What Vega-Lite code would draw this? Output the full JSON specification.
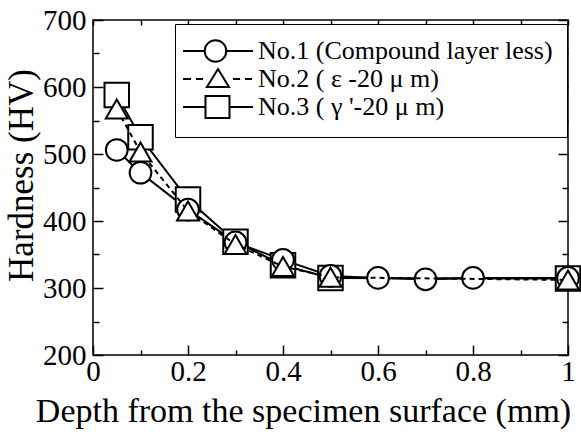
{
  "$schema": "https://vega.github.io/schema/vega-lite/v6.json",
  "width": 475,
  "height": 335,
  "autosize": {"type": "none"},
  "padding": {"left": 93, "top": 20, "right": 13, "bottom": 79},
  "background": "white",
  "data": {
    "values": [
      {"series": "No.1 (Compound layer less)", "depth": 0.05, "hv": 506},
      {"series": "No.1 (Compound layer less)", "depth": 0.1, "hv": 472},
      {"series": "No.1 (Compound layer less)", "depth": 0.2, "hv": 417},
      {"series": "No.1 (Compound layer less)", "depth": 0.3, "hv": 368},
      {"series": "No.1 (Compound layer less)", "depth": 0.4, "hv": 342},
      {"series": "No.1 (Compound layer less)", "depth": 0.5, "hv": 318},
      {"series": "No.1 (Compound layer less)", "depth": 0.6, "hv": 315},
      {"series": "No.1 (Compound layer less)", "depth": 0.7, "hv": 313},
      {"series": "No.1 (Compound layer less)", "depth": 0.8, "hv": 315},
      {"series": "No.1 (Compound layer less)", "depth": 1.0, "hv": 315},
      {"series": "No.2 ( ε -20 μ m)", "depth": 0.05, "hv": 567},
      {"series": "No.2 ( ε -20 μ m)", "depth": 0.1, "hv": 503},
      {"series": "No.2 ( ε -20 μ m)", "depth": 0.2, "hv": 415},
      {"series": "No.2 ( ε -20 μ m)", "depth": 0.3, "hv": 365},
      {"series": "No.2 ( ε -20 μ m)", "depth": 0.4, "hv": 332},
      {"series": "No.2 ( ε -20 μ m)", "depth": 0.5, "hv": 316},
      {"series": "No.2 ( ε -20 μ m)", "depth": 1.0, "hv": 312},
      {"series": "No.3 ( γ '-20 μ m)", "depth": 0.05, "hv": 588},
      {"series": "No.3 ( γ '-20 μ m)", "depth": 0.1, "hv": 525},
      {"series": "No.3 ( γ '-20 μ m)", "depth": 0.2, "hv": 432},
      {"series": "No.3 ( γ '-20 μ m)", "depth": 0.3, "hv": 369},
      {"series": "No.3 ( γ '-20 μ m)", "depth": 0.4, "hv": 334},
      {"series": "No.3 ( γ '-20 μ m)", "depth": 0.5, "hv": 315},
      {"series": "No.3 ( γ '-20 μ m)", "depth": 1.0, "hv": 314}
    ]
  },
  "layer": [
    {
      "mark": {"type": "point", "opacity": 0},
      "encoding": {
        "x": {
          "field": "depth", "type": "quantitative",
          "scale": {"domain": [0, 1], "nice": false, "zero": false},
          "axis": {
            "orient": "top", "title": null, "labels": false,
            "values": [0, 0.1, 0.2, 0.3, 0.4, 0.5, 0.6, 0.7, 0.8, 0.9, 1],
            "tickSize": -5
          }
        },
        "y": {
          "field": "hv", "type": "quantitative",
          "scale": {"domain": [200, 700], "nice": false, "zero": false},
          "axis": {
            "orient": "right", "title": null, "labels": false,
            "values": [200, 250, 300, 350, 400, 450, 500, 550, 600, 650, 700],
            "tickSize": {"condition": {"test": "datum.value % 100 == 0", "value": -10}, "value": -6}
          }
        },
        "shape": {
          "field": "series", "type": "nominal",
          "scale": {
            "domain": ["No.1 (Compound layer less)", "No.2 ( ε -20 μ m)", "No.3 ( γ '-20 μ m)"],
            "range": [
              "M-1.58,0H0.225M2.025,0H4.25M2.025,0A0.9,0.9,0,1,1,0.225,0A0.9,0.9,0,1,1,2.025,0Z",
              "M-1.58,0H-0.92M-0.5,0H0.08M2.58,0H3.17M3.58,0H4.17M1.33,-0.83L2.25,0.67L0.41,0.67Z",
              "M-1.58,0H0.29M2.29,0H4.25M0.29,-0.92H2.29V0.92H0.29Z"
            ]
          },
          "legend": {
            "orient": "none",
            "legendX": 82,
            "legendY": 4,
            "title": null,
            "strokeColor": "black",
            "fillColor": "white",
            "padding": 14,
            "symbolSize": 576,
            "symbolStrokeWidth": 2,
            "symbolFillColor": "white",
            "symbolStrokeColor": "black",
            "symbolOpacity": 1,
            "labelOffset": 43,
            "labelFont": "Liberation Serif",
            "labelFontSize": 26,
            "labelColor": "black",
            "labelLimit": 500,
            "rowPadding": -1,
            "encode": {"symbols": {"update": {"opacity": {"value": 1}, "fill": {"value": "white"}, "stroke": {"value": "black"}, "strokeWidth": {"value": 2}}}}
          }
        }
      }
    },
    {
      "transform": [{"filter": {"field": "series", "oneOf": ["No.1 (Compound layer less)", "No.3 ( γ '-20 μ m)"]}}],
      "mark": {"type": "line", "stroke": "black", "strokeWidth": 2},
      "encoding": {
        "x": {
          "field": "depth", "type": "quantitative",
          "axis": {
            "orient": "bottom",
            "title": "Depth from the specimen surface (mm)",
            "values": [0, 0.1, 0.2, 0.3, 0.4, 0.5, 0.6, 0.7, 0.8, 0.9, 1],
            "labelExpr": "round(datum.value*10)%2==0 ? format(datum.value,'~g') : ''",
            "tickSize": {"condition": {"test": "round(datum.value*10)%2==0", "value": -10}, "value": -5},
            "labelPadding": 12,
            "titlePadding": 3,
            "titleX": 210,
            "titleAlign": "center",
            "labelFontSize": 29,
            "titleFontSize": 34
          }
        },
        "y": {
          "field": "hv", "type": "quantitative",
          "axis": {
            "orient": "left",
            "title": "Hardness (HV)",
            "values": [200, 250, 300, 350, 400, 450, 500, 550, 600, 650, 700],
            "labelExpr": "datum.value % 100 == 0 ? datum.label : ''",
            "tickSize": {"condition": {"test": "datum.value % 100 == 0", "value": -10}, "value": -6},
            "labelPadding": 17,
            "titlePadding": 3,
            "titleY": 155,
            "labelFontSize": 29,
            "titleFontSize": 35
          }
        },
        "detail": {"field": "series"}
      }
    },
    {
      "transform": [{"filter": {"field": "series", "equal": "No.3 ( γ '-20 μ m)"}}],
      "mark": {"type": "point", "shape": "square", "size": 600, "filled": true, "fill": "white", "stroke": "black", "strokeWidth": 2, "opacity": 1},
      "encoding": {
        "x": {"field": "depth", "type": "quantitative", "axis": null},
        "y": {"field": "hv", "type": "quantitative", "axis": null}
      }
    },
    {
      "transform": [{"filter": {"field": "series", "equal": "No.1 (Compound layer less)"}}],
      "mark": {"type": "point", "shape": "circle", "size": 470, "filled": true, "fill": "white", "stroke": "black", "strokeWidth": 2, "opacity": 1},
      "encoding": {
        "x": {"field": "depth", "type": "quantitative", "axis": null},
        "y": {"field": "hv", "type": "quantitative", "axis": null}
      }
    },
    {
      "transform": [{"filter": {"field": "series", "equal": "No.2 ( ε -20 μ m)"}}],
      "mark": {"type": "line", "stroke": "black", "strokeWidth": 2, "strokeDash": [5, 4]},
      "encoding": {
        "x": {"field": "depth", "type": "quantitative", "axis": null},
        "y": {"field": "hv", "type": "quantitative", "axis": null}
      }
    },
    {
      "transform": [{"filter": {"field": "series", "equal": "No.2 ( ε -20 μ m)"}}],
      "mark": {"type": "point", "shape": "triangle-up", "size": 480, "filled": true, "fill": "white", "stroke": "black", "strokeWidth": 2, "opacity": 1},
      "encoding": {
        "x": {"field": "depth", "type": "quantitative", "axis": null},
        "y": {"field": "hv", "type": "quantitative", "axis": null}
      }
    }
  ],
  "resolve": {
    "axis": {"x": "independent", "y": "independent"},
    "scale": {"shape": "independent"}
  },
  "config": {
    "view": {"stroke": "black", "strokeWidth": 1.5},
    "font": "Liberation Serif",
    "legend": {"labelFont": "Liberation Serif"},
    "axis": {
      "domain": false,
      "grid": false,
      "ticks": true,
      "tickColor": "black",
      "tickWidth": 1.5,
      "labelFont": "Liberation Serif",
      "labelColor": "black",
      "labelFlush": false,
      "labelOverlap": false,
      "labelBound": false,
      "titleFont": "Liberation Serif",
      "titleFontWeight": "normal",
      "titleColor": "black"
    }
  }
}
